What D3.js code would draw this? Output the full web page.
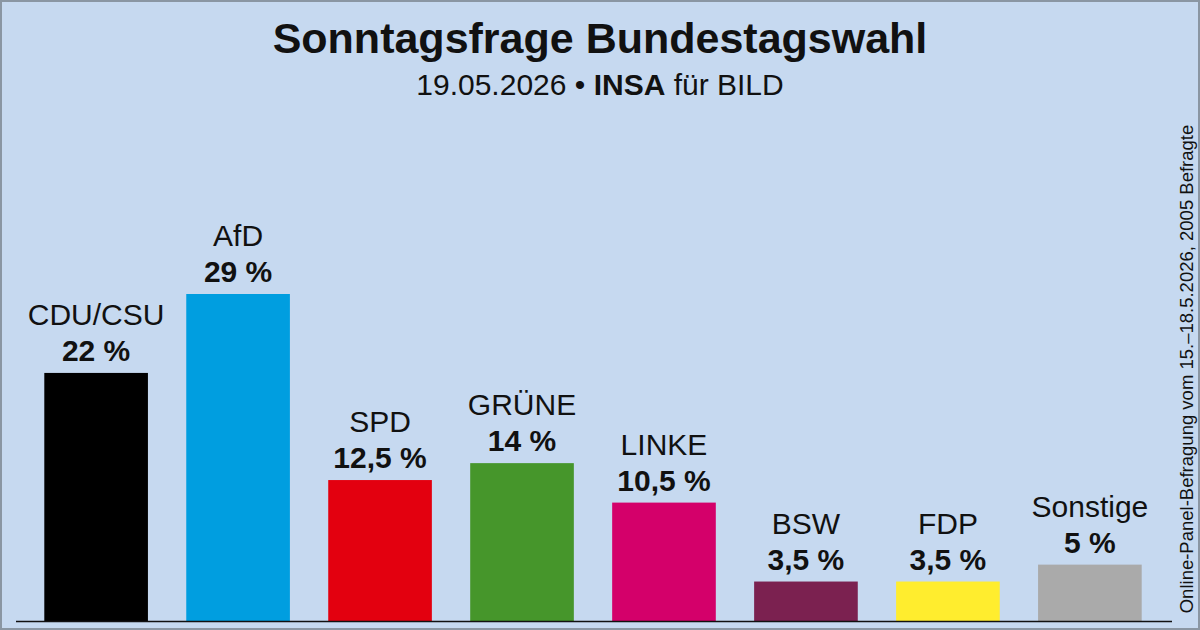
<!DOCTYPE html>
<html><head><meta charset="utf-8">
<script src="https://cdn.jsdelivr.net/npm/d3@7"></script>
<style>body{margin:0;background:#c6d9f0}svg{display:block;font-family:"Liberation Sans",Arial,sans-serif}</style>
</head><body>
<script>
// chart data
const parties = ["CDU/CSU", "AfD", "SPD", "GRÜNE", "LINKE", "BSW", "FDP", "Sonstige"];
const values = [22, 29, 12.5, 14, 10.5, 3.5, 3.5, 5];
const colors = ["#000000", "#009ee0", "#e3000f", "#46962b", "#d4006a", "#7b2150", "#ffed2e", "#aaaaaa"];

const width = 1200, height = 630;
const svg = d3.select("body").append("svg").attr("width", width).attr("height", height);

svg.append("rect").attr("x", 1).attr("y", 1).attr("width", width - 2).attr("height", height - 2)
    .attr("fill", "#c6d9f0").attr("stroke", "#8a96a3").attr("stroke-width", 2);

const x = d3.scaleBand().domain(parties).range([23, 1163]).paddingInner(0.27).paddingOuter(0.15);
const y = d3.scaleLinear().domain([0, 29]).range([621, 294]);

svg.append("text").attr("x", 600).attr("y", 53).attr("text-anchor", "middle")
    .attr("font-size", 43).attr("font-weight", "bold").attr("fill", "#111").text("Sonntagsfrage Bundestagswahl");
const sub = svg.append("text").attr("x", 600).attr("y", 95).attr("text-anchor", "middle")
    .attr("font-size", 30).attr("fill", "#111");
sub.append("tspan").text("19.05.2026 • ");
sub.append("tspan").attr("font-weight", "bold").text("INSA");
sub.append("tspan").text("  für BILD");

svg.selectAll(".bar").data(parties).enter().append("rect")
    .attr("x", d => x(d)).attr("width", x.bandwidth())
    .attr("y", (d, i) => y(values[i])).attr("height", (d, i) => y(0) - y(values[i]))
    .attr("fill", (d, i) => colors[i]);

svg.selectAll(".name").data(parties).enter().append("text")
    .attr("x", d => x(d) + x.bandwidth() / 2).attr("y", (d, i) => y(values[i]) - 48)
    .attr("text-anchor", "middle").attr("font-size", 30).attr("fill", "#111").text(d => d);

svg.selectAll(".val").data(parties).enter().append("text")
    .attr("x", d => x(d) + x.bandwidth() / 2).attr("y", (d, i) => y(values[i]) - 12)
    .attr("text-anchor", "middle").attr("font-size", 30).attr("font-weight", "bold").attr("fill", "#111")
    .text((d, i) => String(values[i]).replace(".", ",") + " %");

svg.append("line").attr("x1", 16).attr("x2", 1172).attr("y1", 621.5).attr("y2", 621.5)
    .attr("stroke", "#111").attr("stroke-width", 1.5);

svg.append("text").attr("transform", "translate(1193,369) rotate(-90)").attr("text-anchor", "middle")
    .attr("font-size", 18.5).attr("fill", "#111")
    .text("Online-Panel-Befragung vom 15.–18.5.2026, 2005 Befragte");
</script>
</body></html>
